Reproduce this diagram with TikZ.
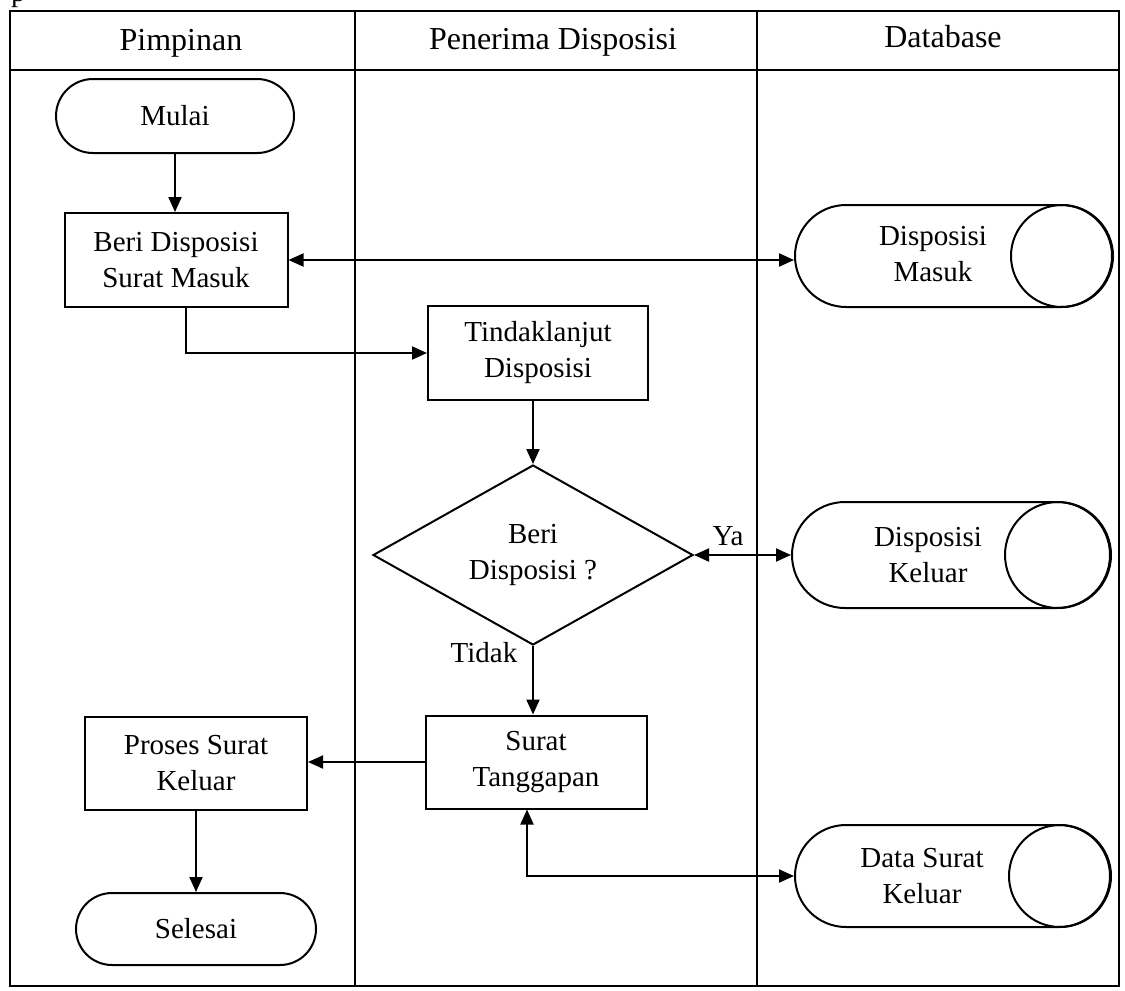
\documentclass[tikz,border=0pt]{standalone}
\usepackage{fontspec}
\setmainfont{Liberation Serif}
\usetikzlibrary{arrows.meta,shapes.misc,shapes.geometric}
\begin{document}
\begin{tikzpicture}[x=1pt,y=-1pt,
  every node/.style={font=\fontsize{29}{36}\selectfont},
  hdr/.style={font=\fontsize{32}{38}\selectfont, anchor=base, inner sep=0pt},
  tbl/.style={line width=1.2pt},
  proc/.style={draw, line width=2pt, rectangle, align=center, inner sep=0pt},
  term/.style={draw, line width=2pt, rounded rectangle, align=center, inner sep=0pt},
  dbbody/.style={draw, line width=2pt, rounded rectangle, inner sep=0pt},
  dbcirc/.style={draw, line width=2pt, circle, inner sep=0pt},
  dbtext/.style={align=center, inner sep=0pt},
  dec/.style={draw, line width=2pt, diamond, aspect=1.78, inner sep=0pt, align=center},
  lbl/.style={inner sep=0pt, anchor=base},
  arr/.style={line width=2pt, -{Triangle[length=15pt,width=13pt]}},
  darr/.style={line width=2pt, {Triangle[length=15pt,width=13pt]}-{Triangle[length=15pt,width=13pt]}}
]
\useasboundingbox (0,0) rectangle (1125,991);

% fragment of text cut at top edge
\node[lbl, anchor=base west] (frag) at (11,1) {p};

% swimlane table
\draw[tbl] (10,11) rectangle (1119,986);
\draw[tbl] (10,70) -- (1119,70);
\draw[tbl] (355,11) -- (355,986);
\draw[tbl] (757,11) -- (757,986);
\node[hdr] (h1) at (181,50) {Pimpinan};
\node[hdr] (h2) at (553,49) {Penerima Disposisi};
\node[hdr] (h3) at (943,47) {Database};

% Pimpinan lane
\node[term, minimum width=238pt, minimum height=74pt] (mulai) at (175,116) {Mulai};
\node[proc, minimum width=223pt, minimum height=94pt] (beri) at (176,260) {Beri Disposisi\\Surat Masuk};
\node[proc, minimum width=222pt, minimum height=93pt] (proses) at (196,763) {Proses Surat\\Keluar};
\node[term, minimum width=240pt, minimum height=72pt] (selesai) at (196,929) {Selesai};

% Penerima Disposisi lane
\node[proc, minimum width=220pt, minimum height=94pt] (tind) at (538,353) {Tindaklanjut\\Disposisi};
\node[dec, minimum width=320pt, minimum height=180pt] (decision) at (533,555) {Beri\\Disposisi ?};
\node[proc, minimum width=221pt, minimum height=93pt] (st) at (536,762) {Surat\\Tanggapan};

% Database lane
\node[dbbody, minimum width=317pt, minimum height=102pt] (dm) at (953.5,256) {};
\node[dbcirc, minimum size=102pt] (dmc) at ([xshift=-51pt]dm.east) {};
\node[dbtext] (dmt) at (933,254) {Disposisi\\Masuk};

\node[dbbody, minimum width=318pt, minimum height=106pt] (dk) at (951,555) {};
\node[dbcirc, minimum size=106pt] (dkc) at ([xshift=-53pt]dk.east) {};
\node[dbtext] (dkt) at (928,555) {Disposisi\\Keluar};

\node[dbbody, minimum width=315pt, minimum height=102pt] (dsk) at (952.5,876) {};
\node[dbcirc, minimum size=102pt] (dskc) at ([xshift=-51pt]dsk.east) {};
\node[dbtext] (dskt) at (922,876) {Data Surat\\Keluar};

% connectors
\draw[arr] (mulai.south) -- (mulai.south |- beri.north);
\draw[darr] (beri.east) -- (beri.east -| dm.west);
\draw[arr] ([xshift=10pt]beri.south) |- (tind.west);
\draw[arr] (decision.north |- tind.south) -- (decision.north);
\draw[darr] (decision.east) -- (decision.east -| dk.west);
\node[lbl] (ya) at (728,545) {Ya};
\draw[arr] (decision.south) -- (decision.south |- st.north);
\node[lbl] (tidak) at (484,662) {Tidak};
\draw[arr] (st.west) -- (st.west -| proses.east);
\draw[arr] (proses.south) -- (proses.south |- selesai.north);
\draw[darr] ([xshift=-9pt]st.south) |- (dsk.west);
\end{tikzpicture}
\end{document}
